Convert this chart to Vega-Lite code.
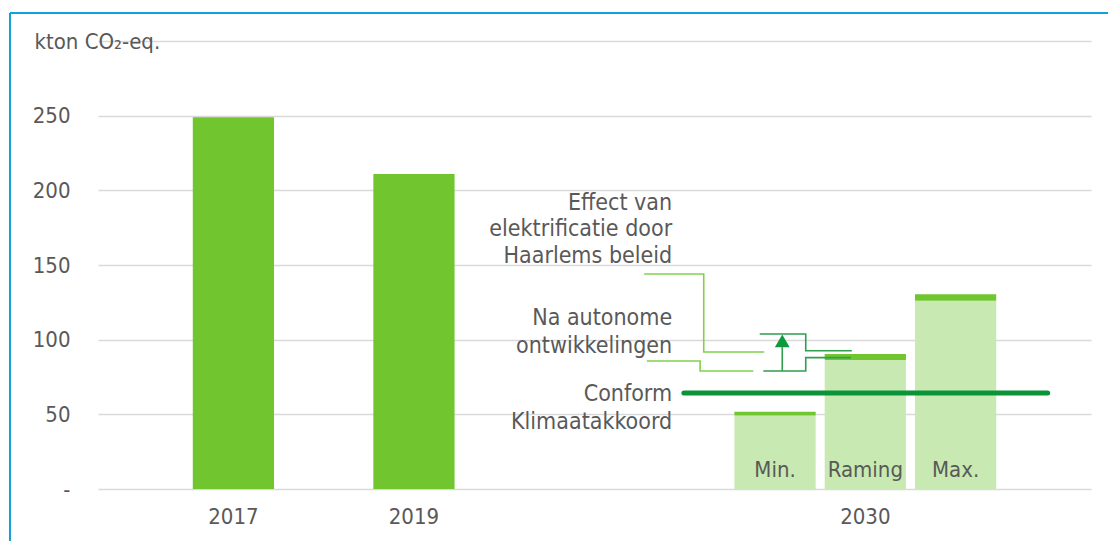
{
  "$schema": "https://vega.github.io/schema/vega-lite/v6.json",
  "width": 993,
  "height": 448,
  "autosize": {"type": "none"},
  "padding": {"left": 98, "top": 41, "right": 17, "bottom": 52},
  "background": "white",
  "config": {
    "view": {"stroke": null},
    "font": "DejaVu Sans Condensed",
    "text": {"font": "DejaVu Sans Condensed"}
  },
  "datasets": {
    "bars": [
      {"cat": "2017", "value": 249, "kind": "hist"},
      {"cat": "2019", "value": 211, "kind": "hist"},
      {"cat": "Min.", "value": 49.2, "cap": 51.8, "kind": "proj"},
      {"cat": "Raming", "value": 86.4, "cap": 90.4, "kind": "proj"},
      {"cat": "Max.", "value": 126.1, "cap": 130.4, "kind": "proj"}
    ],
    "frame": [
      {"u": -0.975, "u2": 11.5, "v": 318.7, "v2": 318.7},
      {"u": -0.975, "u2": -0.975, "v": 318.7, "v2": -60}
    ],
    "paths": [
      {"seg": "effect", "kind": "connector", "ord": 1, "u": 6.05, "v": 144.0},
      {"seg": "effect", "kind": "connector", "ord": 2, "u": 6.71, "v": 144.0},
      {"seg": "effect", "kind": "connector", "ord": 3, "u": 6.71, "v": 91.7},
      {"seg": "effect", "kind": "connector", "ord": 4, "u": 7.38, "v": 91.7},
      {"seg": "auto", "kind": "connector", "ord": 1, "u": 6.08, "v": 85.7},
      {"seg": "auto", "kind": "connector", "ord": 2, "u": 6.67, "v": 85.7},
      {"seg": "auto", "kind": "connector", "ord": 3, "u": 6.67, "v": 79.0},
      {"seg": "auto", "kind": "connector", "ord": 4, "u": 7.26, "v": 79.0},
      {"seg": "btop", "kind": "bracket", "ord": 1, "u": 7.33, "v": 103.8},
      {"seg": "btop", "kind": "bracket", "ord": 2, "u": 7.84, "v": 103.8},
      {"seg": "btop", "kind": "bracket", "ord": 3, "u": 7.84, "v": 92.6},
      {"seg": "btop", "kind": "bracket", "ord": 4, "u": 8.35, "v": 92.6},
      {"seg": "bbot", "kind": "bracket", "ord": 1, "u": 7.37, "v": 79.0},
      {"seg": "bbot", "kind": "bracket", "ord": 2, "u": 7.84, "v": 79.0},
      {"seg": "bbot", "kind": "bracket", "ord": 3, "u": 7.84, "v": 88.0},
      {"seg": "bbot", "kind": "bracket", "ord": 4, "u": 8.34, "v": 88.0},
      {"seg": "shaft", "kind": "bracket", "ord": 1, "u": 7.58, "v": 79.0},
      {"seg": "shaft", "kind": "bracket", "ord": 2, "u": 7.58, "v": 95.0}
    ],
    "arrow": [{"u": 7.58, "v": 99.2}],
    "target": [{"u": 6.49, "u2": 10.52, "v": 64.3}],
    "labels": [
      {"text": "Effect van", "u": 6.36, "v": 191.5},
      {"text": "elektrificatie door", "u": 6.36, "v": 174.1},
      {"text": "Haarlems beleid", "u": 6.36, "v": 156.3},
      {"text": "Na autonome", "u": 6.36, "v": 114.8},
      {"text": "ontwikkelingen", "u": 6.36, "v": 96.0},
      {"text": "Conform", "u": 6.36, "v": 63.6},
      {"text": "Klimaatakkoord", "u": 6.36, "v": 45.0}
    ]
  },
  "layer": [
    {
      "layer": [
        {
          "data": {"name": "bars"},
          "transform": [{"filter": "datum.kind == 'hist'"}],
          "mark": {"type": "bar", "color": "#71c62f"},
          "encoding": {
            "x": {
              "field": "cat",
              "type": "nominal",
              "sort": null,
              "scale": {
                "type": "band",
                "domain": ["c0", "2017", "c2", "2019", "c4", "c5", "c6", "Min.", "Raming", "Max.", "c10"],
                "paddingInner": 0.1,
                "paddingOuter": 0.05
              },
              "axis": {
                "title": null,
                "values": ["2017", "2019", "Raming"],
                "labelExpr": "datum.value == 'Raming' ? '2030' : datum.value",
                "labelAngle": 0,
                "labelFont": "DejaVu Sans Condensed",
                "labelFontSize": 22,
                "labelColor": "#595959",
                "labelPadding": 17,
                "ticks": false,
                "domain": false,
                "grid": false
              }
            },
            "y": {
              "field": "value",
              "type": "quantitative",
              "scale": {"domain": [0, 300], "nice": false, "zero": true},
              "axis": {
                "title": "kton CO₂-eq.",
                "titleAngle": 0,
                "titleX": -64,
                "titleY": 0,
                "titleAlign": "left",
                "titleBaseline": "middle",
                "titleFont": "DejaVu Sans Condensed",
                "titleFontSize": 22,
                "titleFontWeight": "normal",
                "titleColor": "#595959",
                "values": [0, 50, 100, 150, 200, 250, 300],
                "labelExpr": "datum.value == 0 ? '-' : (datum.value == 300 ? '' : datum.label)",
                "labelFont": "DejaVu Sans Condensed",
                "labelFontSize": 22,
                "labelColor": "#595959",
                "labelPadding": 28,
                "ticks": false,
                "domain": false,
                "grid": true,
                "gridColor": "#d9d9d9",
                "gridWidth": 1.6
              }
            }
          }
        },
        {
          "data": {"name": "bars"},
          "transform": [{"filter": "datum.kind == 'proj'"}],
          "mark": {"type": "bar", "color": "#c8eab2"},
          "encoding": {
            "x": {"field": "cat", "type": "nominal", "sort": null},
            "y": {"field": "value", "type": "quantitative"}
          }
        },
        {
          "data": {"name": "bars"},
          "transform": [{"filter": "datum.kind == 'proj'"}],
          "mark": {"type": "bar", "color": "#71c62f"},
          "encoding": {
            "x": {"field": "cat", "type": "nominal", "sort": null},
            "y": {"field": "value", "type": "quantitative"},
            "y2": {"field": "cap"}
          }
        },
        {
          "data": {"name": "bars"},
          "transform": [{"filter": "datum.kind == 'proj'"}],
          "mark": {"type": "text", "fontSize": 22, "color": "#595959", "baseline": "middle", "align": "center"},
          "encoding": {
            "x": {"field": "cat", "type": "nominal", "sort": null},
            "y": {"datum": 13, "type": "quantitative"},
            "text": {"field": "cat"}
          }
        }
      ]
    },
    {
      "layer": [
        {
          "data": {"name": "frame"},
          "mark": {"type": "rule", "color": "#12a0dc", "strokeWidth": 2},
          "encoding": {
            "x": {"field": "u", "type": "quantitative", "scale": {"domain": [0, 11], "nice": false, "zero": false}, "axis": null},
            "x2": {"field": "u2"},
            "y": {"field": "v", "type": "quantitative"},
            "y2": {"field": "v2"}
          }
        },
        {
          "data": {"name": "target"},
          "mark": {"type": "rule", "color": "#0a9438", "strokeWidth": 5, "strokeCap": "round"},
          "encoding": {
            "x": {"field": "u", "type": "quantitative"},
            "x2": {"field": "u2"},
            "y": {"field": "v", "type": "quantitative"}
          }
        },
        {
          "data": {"name": "paths"},
          "mark": {"type": "line", "strokeWidth": 1.6, "interpolate": "linear"},
          "encoding": {
            "x": {"field": "u", "type": "quantitative"},
            "y": {"field": "v", "type": "quantitative"},
            "detail": {"field": "seg"},
            "order": {"field": "ord"},
            "color": {"field": "kind", "type": "nominal", "scale": {"domain": ["connector", "bracket"], "range": ["#7fd24d", "#2f9e4f"]}, "legend": null}
          }
        },
        {
          "data": {"name": "arrow"},
          "mark": {"type": "point", "shape": "triangle-up", "size": 220, "filled": true, "color": "#0e9a3c", "opacity": 1},
          "encoding": {
            "x": {"field": "u", "type": "quantitative"},
            "y": {"field": "v", "type": "quantitative"}
          }
        },
        {
          "data": {"name": "labels"},
          "mark": {"type": "text", "fontSize": 23, "color": "#595959", "align": "right", "baseline": "middle"},
          "encoding": {
            "x": {"field": "u", "type": "quantitative"},
            "y": {"field": "v", "type": "quantitative"},
            "text": {"field": "text"}
          }
        }
      ]
    }
  ],
  "resolve": {"scale": {"x": "independent"}}
}
